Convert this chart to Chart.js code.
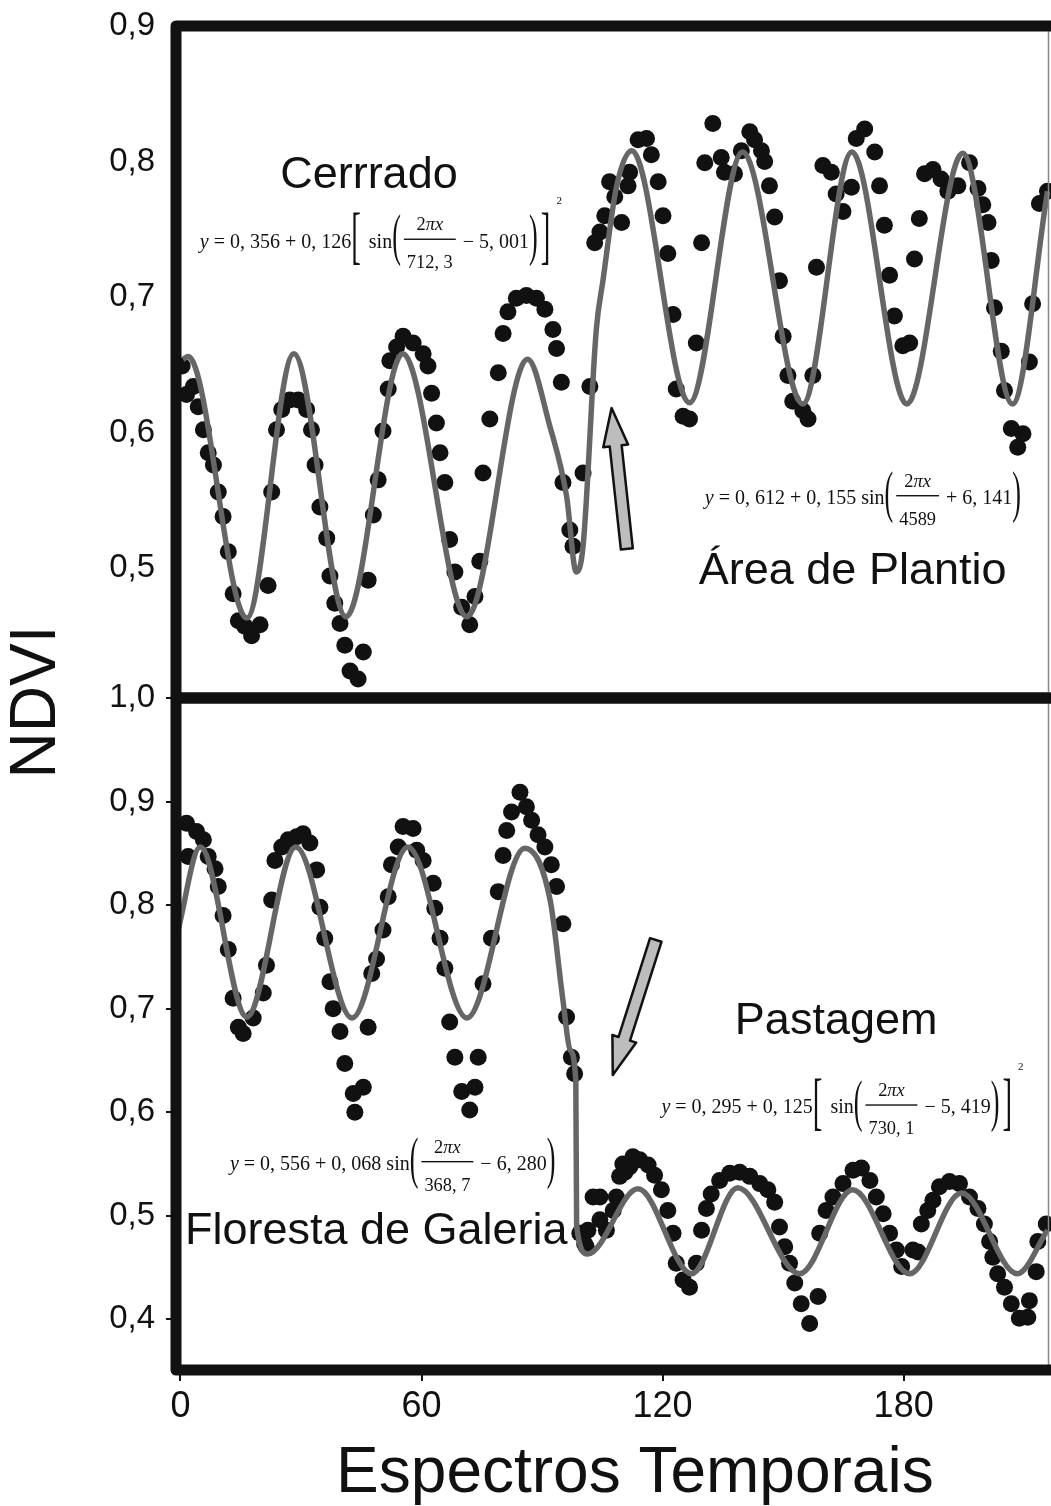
<!DOCTYPE html>
<html>
<head>
<meta charset="utf-8">
<script src="https://cdn.jsdelivr.net/npm/chart.js@4.4.1/dist/chart.umd.min.js"></script>
<style>
  html, body { margin: 0; padding: 0; background: #fff; overflow: hidden; }
  #wrap { position: relative; width: 1051px; height: 1506px; overflow: hidden; }
  #wrap canvas { position: absolute; left: 0; top: 0; }
</style>
</head>
<body>
<div id="wrap">
  <canvas id="bottomChart" width="1062" height="1506"></canvas>
  <canvas id="topChart" width="1062" height="1506"></canvas>
</div>
<script>
// Painel superior: Cerrado -> Área de Plantio
const topX = [0.4, 1.5, 3.2, 4.4, 5.7, 6.9, 8.2, 9.4, 10.6, 11.9, 13.1, 14.4, 16.0, 17.7, 19.8, 21.8, 22.7, 23.9, 25.2, 27.2,
  29.3, 31.4, 32.6, 33.5, 34.7, 36.4, 37.2, 38.4, 39.7, 40.9, 42.2, 44.2, 45.5, 46.7, 48.0, 49.2, 50.4, 51.7, 52.1, 53.8,
  55.4, 57.9, 60.4, 61.6, 62.5, 63.7, 64.6, 65.8, 67.0, 68.3, 70.0, 72.0, 73.3, 74.5, 75.3, 77.0, 79.1, 80.3, 81.5, 83.6,
  86.1, 88.6, 90.7, 92.7, 93.6, 94.8, 95.2, 96.9, 97.7, 100.2, 101.9, 103.1, 104.4, 105.6, 106.8, 108.1, 109.8, 111.4, 111.8, 113.9,
  116.0, 117.2, 118.9, 120.1, 121.3, 122.6, 123.4, 125.1, 126.7, 128.4, 129.7, 130.5, 132.5, 134.6, 135.4, 137.9, 139.6, 141.7, 142.9, 144.6,
  145.4, 146.6, 147.9, 149.1, 150.0, 151.2, 152.4, 154.9, 156.2, 157.4, 158.3, 159.9, 162.0, 163.2, 164.9, 167.0, 168.2, 170.3, 172.8, 174.0,
  175.2, 176.5, 177.7, 179.8, 181.5, 182.7, 183.9, 185.2, 187.3, 189.3, 191.0, 193.5, 196.4, 198.5, 199.7, 201.0, 201.8, 202.6, 204.3, 205.1,
  206.8, 208.4, 209.7, 211.3, 212.1, 213.8, 215.8];
const topY = [0.649, 0.628, 0.634, 0.619, 0.602, 0.585, 0.576, 0.556, 0.538, 0.512, 0.481, 0.461, 0.457, 0.450, 0.458, 0.487, 0.556, 0.602, 0.617, 0.624,
  0.624, 0.617, 0.602, 0.576, 0.545, 0.522, 0.494, 0.474, 0.459, 0.443, 0.424, 0.418, 0.438, 0.491, 0.539, 0.565, 0.601, 0.632, 0.653, 0.663,
  0.671, 0.666, 0.658, 0.649, 0.629, 0.607, 0.585, 0.563, 0.521, 0.497, 0.471, 0.458, 0.479, 0.505, 0.570, 0.610, 0.644, 0.673, 0.689, 0.699,
  0.701, 0.699, 0.691, 0.676, 0.662, 0.637, 0.563, 0.528, 0.516, 0.570, 0.634, 0.740, 0.748, 0.760, 0.785, 0.774, 0.755, 0.782, 0.792, 0.816,
  0.817, 0.805, 0.785, 0.760, 0.732, 0.687, 0.632, 0.612, 0.610, 0.666, 0.740, 0.799, 0.828, 0.803, 0.792, 0.791, 0.808, 0.822, 0.816, 0.808,
  0.800, 0.782, 0.759, 0.712, 0.671, 0.642, 0.623, 0.616, 0.610, 0.642, 0.722, 0.797, 0.792, 0.776, 0.763, 0.781, 0.817, 0.824, 0.807, 0.782,
  0.753, 0.716, 0.686, 0.664, 0.666, 0.728, 0.758, 0.791, 0.794, 0.787, 0.778, 0.782, 0.799, 0.780, 0.768, 0.755, 0.727, 0.692, 0.660, 0.631,
  0.603, 0.589, 0.599, 0.652, 0.695, 0.769, 0.778];
const topFitX = [0.6, 1.9, 16.5, 28.2, 41.2, 55.3, 71.3, 86.4, 91.9, 96.1, 98.5, 100.2, 103.5, 105.2, 108.5, 112.3,
  126.7, 139.9, 154.9, 167.1, 180.8, 194.7, 207.1, 215.8];
const topFitY = [0.654, 0.656, 0.463, 0.658, 0.464, 0.658, 0.464, 0.654, 0.605, 0.553, 0.497, 0.516, 0.676, 0.713, 0.781, 0.808,
  0.622, 0.807, 0.621, 0.807, 0.621, 0.806, 0.621, 0.778];

// Painel inferior: Floresta de Galeria -> Pastagem
const botX = [1.5, 1.9, 4.0, 5.7, 6.9, 8.6, 9.4, 10.6, 11.9, 13.1, 14.4, 15.6, 18.1, 20.6, 21.4, 22.7, 23.5, 25.2, 26.8, 28.9,
  30.5, 32.2, 33.9, 34.7, 35.9, 37.2, 38.0, 39.7, 40.9, 43.0, 43.4, 45.5, 46.7, 47.6, 48.8, 50.4, 51.7, 52.5, 54.2, 55.4,
  57.9, 58.8, 60.4, 62.9, 63.3, 64.6, 65.8, 67.0, 68.3, 70.0, 72.0, 73.3, 74.1, 75.3, 77.4, 79.1, 80.3, 81.2, 82.4, 84.5,
  86.1, 87.4, 89.0, 90.7, 92.3, 93.6, 95.2, 96.1, 97.3, 98.1, 99.4, 100.6, 101.0, 101.4, 102.7, 104.4, 104.4, 106.0, 107.7, 108.5,
  109.3, 110.1, 110.6, 111.8, 112.2, 112.6, 114.3, 116.4, 118.0, 119.7, 121.3, 122.6, 123.4, 125.1, 126.7, 128.4, 129.7, 130.9, 132.1, 134.2,
  136.7, 139.2, 141.7, 144.2, 146.2, 147.9, 149.1, 150.4, 151.6, 152.9, 154.5, 156.6, 158.7, 159.1, 160.7, 162.4, 164.9, 167.4, 169.5, 171.6,
  173.2, 174.9, 176.5, 178.2, 179.5, 182.3, 183.6, 184.4, 186.0, 187.3, 188.9, 191.4, 193.9, 196.4, 198.5, 200.1, 201.4, 202.2, 203.4, 205.1,
  206.8, 208.8, 210.9, 211.3, 213.0, 213.4, 215.5];
const botY = [0.879, 0.847, 0.871, 0.863, 0.847, 0.835, 0.818, 0.790, 0.757, 0.710, 0.682, 0.676, 0.691, 0.715, 0.742, 0.805, 0.843, 0.856, 0.863, 0.866,
  0.869, 0.860, 0.834, 0.798, 0.768, 0.726, 0.700, 0.678, 0.647, 0.618, 0.600, 0.624, 0.682, 0.734, 0.748, 0.776, 0.808, 0.839, 0.856, 0.876,
  0.874, 0.853, 0.843, 0.821, 0.797, 0.768, 0.739, 0.687, 0.653, 0.620, 0.602, 0.624, 0.653, 0.724, 0.768, 0.813, 0.848, 0.872, 0.890, 0.909,
  0.895, 0.882, 0.868, 0.856, 0.839, 0.818, 0.782, 0.692, 0.653, 0.637, 0.483, 0.473, 0.470, 0.486, 0.518, 0.496, 0.518, 0.486, 0.505, 0.518,
  0.538, 0.550, 0.542, 0.547, 0.550, 0.557, 0.554, 0.549, 0.539, 0.525, 0.505, 0.483, 0.454, 0.438, 0.431, 0.454, 0.486, 0.507, 0.521, 0.534,
  0.541, 0.542, 0.538, 0.531, 0.525, 0.513, 0.489, 0.470, 0.454, 0.435, 0.415, 0.396, 0.422, 0.483, 0.505, 0.518, 0.531, 0.544, 0.546, 0.534,
  0.518, 0.502, 0.483, 0.467, 0.451, 0.467, 0.465, 0.492, 0.505, 0.515, 0.528, 0.533, 0.531, 0.518, 0.507, 0.492, 0.475, 0.460, 0.444, 0.431,
  0.415, 0.401, 0.402, 0.418, 0.446, 0.475, 0.492];
const botFitX = [-0.6, 4.9, 16.5, 28.7, 42.7, 56.6, 71.3, 85.7, 92.0, 95.2, 97.0, 98.4, 98.6, 101.3, 113.9,
  127.2, 138.7, 154.1, 167.3, 181.5, 194.4, 208.3, 215.8];
const botFitY = [0.776, 0.856, 0.692, 0.856, 0.691, 0.856, 0.691, 0.855, 0.805, 0.708, 0.660, 0.630, 0.490, 0.463, 0.526,
  0.444, 0.527, 0.444, 0.525, 0.444, 0.522, 0.444, 0.486];

const xTicks = [0, 60, 120, 180];
const topYTicks = [0.5, 0.6, 0.7, 0.8, 0.9];
const botYTicks = [0.4, 0.5, 0.6, 0.7, 0.8, 0.9, 1.0];
const xMin = -1.12, xMax = 217.3;

Chart.defaults.font.family = '"Liberation Sans", Arial, sans-serif';
Chart.defaults.color = '#111';

const SERIF = '"Liberation Serif", "Times New Roman", serif';
const SANS = '"Liberation Sans", Arial, sans-serif';
const comma = v => v.toFixed(1).replace('.', ',');
const pts = (xs, ys) => xs.map((x, i) => ({ x, y: ys[i] }));
const it = s => ({ s, i: true });
const rm = s => ({ s });

function seriesFor(xs, ys, fx, fy) {
  return [
    { type: 'line', data: pts(fx, fy), borderColor: '#666', borderWidth: 5.5, pointRadius: 0,
      cubicInterpolationMode: 'monotone', fill: false, order: 0, clip: 0 },
    { type: 'scatter', data: pts(xs, ys), pointRadius: 8.5, pointBackgroundColor: '#111',
      pointBorderColor: '#111', pointBorderWidth: 0, order: 1, clip: 0 }
  ];
}

// desenha uma equação com fração e delimitadores altos
function drawEq(ctx, x, axis, parts, size) {
  const setF = (g, sz) => { ctx.font = (g.i ? 'italic ' : '') + sz + 'px ' + SERIF; };
  const runW = (segs, sz) => segs.reduce((w, g) => { setF(g, sz); return w + ctx.measureText(g.s).width; }, 0);
  const run = (segs, sz, x0, base) => {
    let xx = x0;
    segs.forEach(g => { setF(g, sz); ctx.fillText(g.s, xx, base); xx += ctx.measureText(g.s).width; });
    return xx;
  };
  ctx.textAlign = 'left';
  ctx.textBaseline = 'alphabetic';
  const base = axis + 0.42 * size;
  parts.forEach(p => {
    if (p.txt) {
      x = run(p.txt, size, x, base);
    } else if (p.frac) {
      const fs = size * 0.92;
      const wn = runW(p.frac[0], fs), wd = runW(p.frac[1], fs);
      const w = Math.max(wn, wd) + 6;
      run(p.frac[0], fs, x + (w - wn) / 2, axis - 0.45 * size);
      run(p.frac[1], fs, x + (w - wd) / 2, axis + 1.45 * size);
      ctx.fillRect(x, axis - 0.7, w, 1.4);
      x += w + 2;
    } else if (p.big) {
      const sz = size * (p.big === '[' || p.big === ']' ? 3.2 : 2.9);
      ctx.save();
      ctx.font = sz + 'px ' + SERIF;
      const w = ctx.measureText(p.big).width * 0.45;
      ctx.translate(x, axis);
      ctx.scale(0.45, 1);
      ctx.textBaseline = 'middle';
      ctx.fillText(p.big, 0, 0);
      ctx.restore();
      x += w + 3;
    } else if (p.sup) {
      ctx.font = (size * 0.55) + 'px ' + SERIF;
      ctx.fillText(p.sup, x + 3, axis - 1.75 * size);
    }
  });
}

function drawArrow(ctx, x1, y1, x2, y2) {
  const len = Math.hypot(x2 - x1, y2 - y1);
  const dx = (x2 - x1) / len, dy = (y2 - y1) / len;
  const nx = -dy, ny = dx;
  const hl = 38, sw = 6, hw = 12.5;
  const bx = x2 - dx * hl, by = y2 - dy * hl;
  ctx.save();
  ctx.beginPath();
  ctx.moveTo(x1 + nx * sw, y1 + ny * sw);
  ctx.lineTo(bx + nx * sw, by + ny * sw);
  ctx.lineTo(bx + nx * hw, by + ny * hw);
  ctx.lineTo(x2, y2);
  ctx.lineTo(bx - nx * hw, by - ny * hw);
  ctx.lineTo(bx - nx * sw, by - ny * sw);
  ctx.lineTo(x1 - nx * sw, y1 - ny * sw);
  ctx.closePath();
  ctx.fillStyle = '#bdbdbd';
  ctx.fill();
  ctx.lineWidth = 2.5;
  ctx.strokeStyle = '#111';
  ctx.stroke();
  ctx.restore();
}

// moldura grossa + rótulos, equações e setas
function notesPlugin(cfg) {
  return {
    id: 'notes',
    afterDatasetsDraw(chart) {
      const { ctx, chartArea: a, scales: { x, y } } = chart;
      ctx.save();
      // lado direito cortado na figura original: só um filete cinza
      ctx.strokeStyle = '#888';
      ctx.lineWidth = 1.5;
      ctx.beginPath();
      ctx.moveTo(a.right - 5, a.top);
      ctx.lineTo(a.right - 5, a.bottom);
      ctx.stroke();
      ctx.strokeStyle = '#111';
      ctx.lineWidth = 11;
      ctx.lineJoin = 'round';
      ctx.lineCap = 'butt';
      ctx.beginPath();
      ctx.moveTo(a.right + 6, a.top);
      ctx.lineTo(a.left, a.top);
      ctx.lineTo(a.left, a.bottom);
      ctx.lineTo(a.right + 6, a.bottom);
      ctx.stroke();
      ctx.fillStyle = '#111';
      (cfg.arrows || []).forEach(ar => drawArrow(ctx,
        x.getPixelForValue(ar.from[0]), y.getPixelForValue(ar.from[1]),
        x.getPixelForValue(ar.to[0]), y.getPixelForValue(ar.to[1])));
      (cfg.labels || []).forEach(l => {
        ctx.font = '45px ' + SANS;
        ctx.textAlign = l.align;
        ctx.textBaseline = 'alphabetic';
        ctx.fillText(l.text, x.getPixelForValue(l.x), y.getPixelForValue(l.y));
      });
      (cfg.equations || []).forEach(e => drawEq(ctx, x.getPixelForValue(e.x), y.getPixelForValue(e.y), e.parts, 20));
      if (cfg.titles) {
        ctx.font = '64px ' + SANS;
        ctx.textAlign = 'center';
        ctx.textBaseline = 'alphabetic';
        ctx.fillText('Espectros Temporais', x.getPixelForValue(113.1), a.bottom + 122);
        ctx.translate(37.5, a.top + 4);
        ctx.rotate(-Math.PI / 2);
        ctx.textBaseline = 'middle';
        ctx.fillText('NDVI', 0, 0);
      }
      ctx.restore();
    }
  };
}

function yAxis(min, max, ticks, withMarks) {
  return {
    type: 'linear', min, max,
    afterBuildTicks: s => { s.ticks = ticks.map(v => ({ value: v })); },
    afterFit: s => { s.width = 176; s.paddingTop = 0; s.paddingBottom = 0; },
    border: { display: false },
    grid: withMarks
      ? { drawOnChartArea: false, drawTicks: true, tickLength: 10, color: '#111', lineWidth: 2 }
      : { drawOnChartArea: false, drawTicks: false },
    ticks: { padding: withMarks ? 11 : 21, font: { size: 33 }, color: '#111', callback: v => comma(v) }
  };
}

const common = {
  responsive: false,
  devicePixelRatio: 1,
  animation: false,
  events: [],
  plugins: { legend: { display: false }, tooltip: { enabled: false } }
};

new Chart(document.getElementById('topChart'), {
  type: 'scatter',
  data: { datasets: seriesFor(topX, topY, topFitX, topFitY) },
  options: Object.assign({}, common, {
    layout: { padding: { top: 26, right: 8, bottom: 808, left: 0 } },
    scales: {
      x: { type: 'linear', min: xMin, max: xMax, display: false },
      y: yAxis(0.404, 0.9, topYTicks, false)
    }
  }),
  plugins: [notesPlugin({
    labels: [
      { text: 'Cerrrado', x: 46.9, y: 0.7804, align: 'center' },
      { text: 'Área de Plantio', x: 167.3, y: 0.4881, align: 'center' }
    ],
    equations: [
      { x: 4.8, y: 0.7426, parts: [
        { txt: [it('y'), rm(' = 0, 356 + 0, 126')] }, { big: '[' }, { txt: [rm(' sin')] }, { big: '(' },
        { frac: [[rm('2'), it('πx')], [rm('712, 3')]] }, { txt: [rm(' − 5, 001')] }, { big: ')' }, { big: ']' }, { sup: '2' }
      ] },
      { x: 130.5, y: 0.5533, parts: [
        { txt: [it('y'), rm(' = 0, 612 + 0, 155 sin')] }, { big: '(' },
        { frac: [[rm('2'), it('πx')], [rm('4589')]] }, { txt: [rm(' + 6, 141')] }, { big: ')' }
      ] }
    ],
    arrows: [{ from: [111.1, 0.514], to: [107.3, 0.618] }]
  })]
});

new Chart(document.getElementById('bottomChart'), {
  type: 'scatter',
  data: { datasets: seriesFor(botX, botY, botFitX, botFitY) },
  options: Object.assign({}, common, {
    layout: { padding: { top: 698, right: 8, bottom: 0, left: 0 } },
    scales: {
      x: {
        type: 'linear', min: xMin, max: xMax,
        afterBuildTicks: s => { s.ticks = xTicks.map(v => ({ value: v })); },
        afterFit: s => { s.height = 136; s.paddingLeft = 0; s.paddingRight = 0; },
        border: { display: false },
        grid: { drawOnChartArea: false, drawTicks: true, tickLength: 11, color: '#111', lineWidth: 2 },
        ticks: { padding: 4, font: { size: 36 }, color: '#111', maxRotation: 0, autoSkip: false }
      },
      y: yAxis(0.351, 1.0, botYTicks, true)
    }
  }),
  plugins: [notesPlugin({
    titles: true,
    labels: [
      { text: 'Pastagem', x: 163.2, y: 0.6755, align: 'center' },
      { text: 'Floresta de Galeria', x: 1.1, y: 0.4727, align: 'left' }
    ],
    equations: [
      { x: 119.7, y: 0.6069, parts: [
        { txt: [it('y'), rm(' = 0, 295 + 0, 125')] }, { big: '[' }, { txt: [rm(' sin')] }, { big: '(' },
        { frac: [[rm('2'), it('πx')], [rm('730, 1')]] }, { txt: [rm(' − 5, 419')] }, { big: ')' }, { big: ']' }, { sup: '2' }
      ] },
      { x: 12.3, y: 0.5522, parts: [
        { txt: [it('y'), rm(' = 0, 556 + 0, 068 sin')] }, { big: '(' },
        { frac: [[rm('2'), it('πx')], [rm('368, 7')]] }, { txt: [rm(' − 6, 280')] }, { big: ')' }
      ] }
    ],
    arrows: [{ from: [118.3, 0.7663], to: [107.6, 0.6359] }]
  })]
});
</script>
</body>
</html>
